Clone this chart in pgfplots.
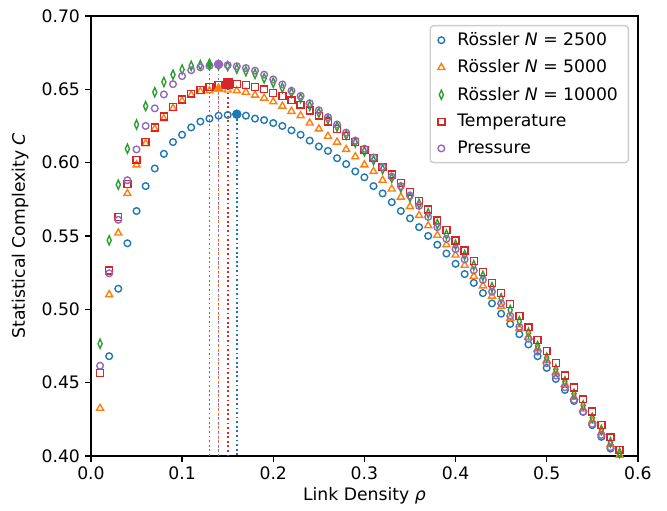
\documentclass[border=0pt]{standalone}
\usepackage{fontspec}
\setmainfont{DejaVu Sans}
\usepackage{pgfplots}
\pgfplotsset{compat=1.18}
\definecolor{cB}{HTML}{1F77B4}
\definecolor{cO}{HTML}{FF7F0E}
\definecolor{cG}{HTML}{2CA02C}
\definecolor{cR}{HTML}{D62728}
\definecolor{cP}{HTML}{9467BD}
\newcommand{\fs}{\fontsize{12.4}{15}\selectfont}
\begin{document}
\begin{tikzpicture}
\begin{axis}[
  scale only axis, width=393.8pt, height=316.8pt,
  xmin=0, xmax=0.6, ymin=0.4, ymax=0.7,
  xtick={0,0.1,0.2,0.3,0.4,0.5,0.6},
  ytick={0.40,0.45,0.50,0.55,0.60,0.65,0.70},
  xticklabel style={/pgf/number format/.cd, fixed, fixed zerofill, precision=1},
  yticklabel style={/pgf/number format/.cd, fixed, fixed zerofill, precision=2},
  /pgf/number format/assume math mode=true,
  tick label style={font=\fs},
  tick align=outside, xtick pos=left, ytick pos=left,
  major tick length=4.4pt,
  every tick/.style={black, line width=1pt},
  axis line style={line width=1pt},
  xlabel={Link Density \textit{ρ}},
  ylabel={Statistical Complexity \textit{C}},
  every axis x label/.style={at={(axis description cs:0.5,-0.0909)}, anchor=center, font=\fs},
  every axis y label/.style={at={(axis description cs:-0.1295,0.5)}, anchor=center, rotate=90, font=\fs},
  legend style={at={(0.984,0.9795)}, anchor=north east, draw=black!20, line width=1pt, rounded corners=2.5pt, fill=white, font=\fs, row sep=4.7pt, inner xsep=5.5pt, inner ysep=3pt,
    /tikz/every odd column/.append style={column sep=7pt}},
  legend cell align=left,
]
% vertical lines
\addplot[forget plot, cG, line width=1.3pt, dash pattern=on 1.3pt off 2pt] coordinates {(0.13,0.667) (0.13,0.4)};
\addplot[forget plot, cO, line width=1.3pt, dash pattern=on 1.3pt off 2pt] coordinates {(0.14,0.6505) (0.14,0.4)};
\addplot[forget plot, cP, line width=1.3pt, dash pattern=on 1.3pt off 2pt] coordinates {(0.14,0.667) (0.14,0.4)};
\addplot[forget plot, cR, line width=1.3pt, dash pattern=on 1.3pt off 2pt] coordinates {(0.15,0.654) (0.15,0.4)};
\addplot[forget plot, cB, line width=1.3pt, dash pattern=on 1.3pt off 2pt] coordinates {(0.16,0.633) (0.16,0.4)};
% Rossler 2500
\addplot[only marks, cB, mark=o, mark size=2.4pt, mark options={line width=1pt}] coordinates {
(0.02,0.468) (0.03,0.514) (0.04,0.545) (0.05,0.567) (0.06,0.584) (0.07,0.596) (0.08,0.606) (0.09,0.614) (0.10,0.619)
(0.11,0.624) (0.12,0.628) (0.13,0.630) (0.14,0.632) (0.15,0.6325) (0.16,0.633) (0.17,0.632) (0.18,0.630) (0.19,0.629) (0.20,0.627)
(0.21,0.625) (0.22,0.622) (0.23,0.619) (0.24,0.615) (0.25,0.611) (0.26,0.608) (0.27,0.603) (0.28,0.599) (0.29,0.594) (0.30,0.590)
(0.31,0.584) (0.32,0.579) (0.33,0.573) (0.34,0.567) (0.35,0.562) (0.36,0.556) (0.37,0.550) (0.38,0.544) (0.39,0.538) (0.40,0.531)
(0.41,0.524) (0.42,0.518) (0.43,0.511) (0.44,0.504) (0.45,0.497) (0.46,0.490) (0.47,0.483) (0.48,0.476) (0.49,0.468) (0.50,0.460)
(0.51,0.4525) (0.52,0.445) (0.53,0.4375) (0.54,0.430) (0.55,0.421) (0.56,0.413) (0.57,0.405)};
\addlegendentry{Rössler \textit{N} = 2500}
% Rossler 5000
\addplot[only marks, cO, mark=triangle, mark size=2.9pt, mark options={line width=1pt}] coordinates {
(0.01,0.4325) (0.02,0.510) (0.03,0.552) (0.04,0.579) (0.05,0.5985) (0.06,0.613) (0.07,0.623) (0.08,0.630) (0.09,0.637) (0.10,0.642)
(0.11,0.646) (0.12,0.6485) (0.13,0.649) (0.14,0.6505) (0.15,0.6495) (0.16,0.649) (0.17,0.648) (0.18,0.646) (0.19,0.644) (0.20,0.6415)
(0.21,0.6385) (0.22,0.635) (0.23,0.632) (0.24,0.627) (0.25,0.623) (0.26,0.618) (0.27,0.614) (0.28,0.609) (0.29,0.604) (0.30,0.5985)
(0.31,0.594) (0.32,0.588) (0.33,0.582) (0.34,0.5765) (0.35,0.570) (0.36,0.564) (0.37,0.557) (0.38,0.5505) (0.39,0.544) (0.40,0.537)
(0.41,0.530) (0.42,0.5225) (0.43,0.516) (0.44,0.509) (0.45,0.502) (0.46,0.494) (0.47,0.487) (0.48,0.481) (0.49,0.473) (0.50,0.465)
(0.51,0.457) (0.52,0.449) (0.53,0.440) (0.54,0.432) (0.55,0.424) (0.56,0.416) (0.57,0.408) (0.58,0.4005)};
\addlegendentry{Rössler \textit{N} = 5000}
% Rossler 10000
\addplot[only marks, cG, mark=diamond, mark size=3.3pt, mark options={line width=1pt, xscale=0.6}] coordinates {
(0.01,0.4765) (0.02,0.547) (0.03,0.585) (0.04,0.6095) (0.05,0.626) (0.06,0.6385) (0.07,0.648) (0.08,0.655) (0.09,0.660) (0.10,0.6635)
(0.11,0.666) (0.12,0.6665) (0.13,0.667) (0.14,0.6664) (0.15,0.6658) (0.16,0.664) (0.17,0.6623) (0.18,0.6605) (0.19,0.6575) (0.20,0.6545)
(0.21,0.651) (0.22,0.6477) (0.23,0.644) (0.24,0.6387) (0.25,0.634) (0.26,0.6295) (0.27,0.6245) (0.28,0.619) (0.29,0.6137) (0.30,0.6077)
(0.31,0.6017) (0.32,0.5955) (0.33,0.5895) (0.34,0.583) (0.35,0.5765) (0.36,0.572) (0.37,0.5655) (0.38,0.558) (0.39,0.551) (0.40,0.544)
(0.41,0.537) (0.42,0.530) (0.43,0.5228) (0.44,0.515) (0.45,0.5075) (0.46,0.4995) (0.47,0.4918) (0.48,0.484) (0.49,0.475) (0.50,0.467)
(0.51,0.459) (0.52,0.4508) (0.53,0.4424) (0.54,0.4344) (0.55,0.426) (0.56,0.4177) (0.57,0.4093) (0.58,0.402)};
\addlegendentry{Rössler \textit{N} = 10000}
% Temperature
\addplot[only marks, cR, mark=square, mark size=2.5pt, mark options={line width=1pt}] coordinates {
(0.01,0.4565) (0.02,0.5265) (0.03,0.563) (0.04,0.5855) (0.05,0.602) (0.06,0.614) (0.07,0.624) (0.08,0.6315) (0.09,0.638) (0.10,0.643)
(0.11,0.647) (0.12,0.6495) (0.13,0.6515) (0.14,0.653) (0.15,0.654) (0.16,0.6535) (0.17,0.653) (0.18,0.6515) (0.19,0.650) (0.20,0.6475)
(0.21,0.6455) (0.22,0.6425) (0.23,0.6395) (0.24,0.6355) (0.25,0.632) (0.26,0.628) (0.27,0.623) (0.28,0.618) (0.29,0.614) (0.30,0.6085)
(0.31,0.603) (0.32,0.597) (0.33,0.592) (0.34,0.586) (0.35,0.580) (0.36,0.574) (0.37,0.568) (0.38,0.5605) (0.39,0.554) (0.40,0.547)
(0.41,0.540) (0.42,0.533) (0.43,0.5255) (0.44,0.518) (0.45,0.511) (0.46,0.5035) (0.47,0.4955) (0.48,0.4877) (0.49,0.4791) (0.50,0.4714)
(0.51,0.4632) (0.52,0.4548) (0.53,0.4466) (0.54,0.4386) (0.55,0.4302) (0.56,0.4211) (0.57,0.4127) (0.58,0.4041)};
\addlegendentry{Temperature}
% Pressure
\addplot[only marks, cP, mark=o, mark size=2.4pt, mark options={line width=1pt}] coordinates {
(0.01,0.4615) (0.02,0.5245) (0.03,0.561) (0.04,0.588) (0.05,0.609) (0.06,0.625) (0.07,0.637) (0.08,0.6465) (0.09,0.6535) (0.10,0.659)
(0.11,0.663) (0.12,0.665) (0.13,0.666) (0.14,0.667) (0.15,0.6665) (0.16,0.6657) (0.17,0.6645) (0.18,0.6627) (0.19,0.660) (0.20,0.6567)
(0.21,0.6533) (0.22,0.649) (0.23,0.6455) (0.24,0.6405) (0.25,0.6357) (0.26,0.631) (0.27,0.626) (0.28,0.6205) (0.29,0.615) (0.30,0.6095)
(0.31,0.6035) (0.32,0.597) (0.33,0.5905) (0.34,0.584) (0.35,0.5775) (0.36,0.5705) (0.37,0.563) (0.38,0.556) (0.39,0.548) (0.40,0.541)
(0.41,0.534) (0.42,0.5265) (0.43,0.520) (0.44,0.512) (0.45,0.504) (0.46,0.4955) (0.47,0.488) (0.48,0.480) (0.49,0.4711) (0.50,0.4632)
(0.51,0.4548) (0.52,0.4468) (0.53,0.4382) (0.54,0.4302) (0.55,0.4218) (0.56,0.4143) (0.57,0.4059)};
\addlegendentry{Pressure}
% maxima
\addplot[forget plot, only marks, cB, mark=*, mark size=3.2pt] coordinates {(0.16,0.633)};
\addplot[forget plot, only marks, cO, mark=triangle*, mark size=3.9pt] coordinates {(0.14,0.6505)};
\addplot[forget plot, only marks, cG, mark=diamond*, mark size=4.3pt, mark options={xscale=0.6}] coordinates {(0.13,0.667)};
\addplot[forget plot, only marks, cR, mark=square*, mark size=3.4pt] coordinates {(0.15,0.654)};
\addplot[forget plot, only marks, cP, mark=*, mark size=3.2pt] coordinates {(0.14,0.667)};
\end{axis}
\pgfresetboundingbox
\path ([xshift=-65.5pt,yshift=-39pt]current axis.south west) rectangle ([xshift=21pt,yshift=11.5pt]current axis.north east);
\end{tikzpicture}
\end{document}
